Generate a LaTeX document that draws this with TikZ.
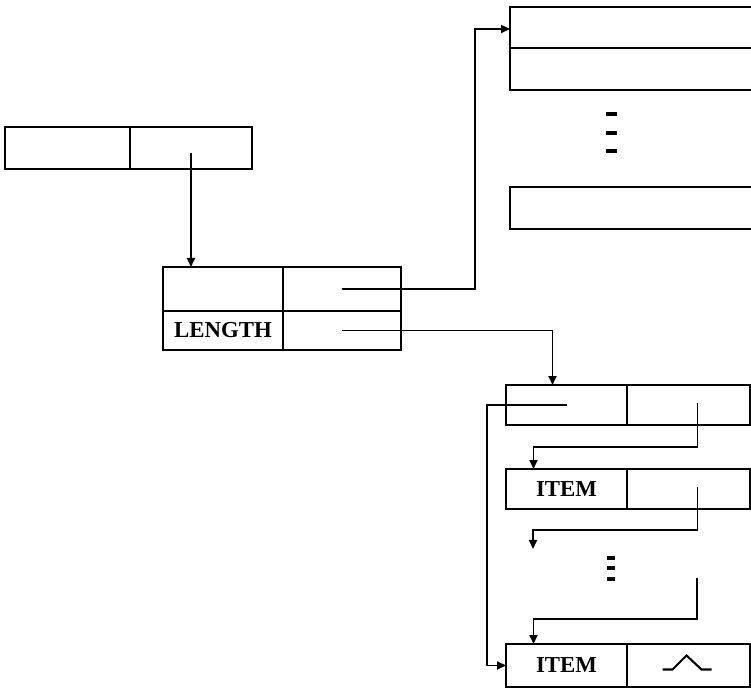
\documentclass[tikz,border=0pt]{standalone}
\usepackage{fontspec}
\setmainfont{Liberation Serif}
\usetikzlibrary{arrows.meta, positioning, calc}

\begin{document}
\begin{tikzpicture}[
    x=0.02cm, y=-0.02cm,
    cell/.style={rectangle, draw, line width=1.2pt, minimum width=#1, minimum height=0.84cm,
                 inner sep=0pt, outer sep=0pt, font=\fontsize{13}{15}\selectfont\bfseries},
    ptr/.style={line width=1.1pt, -{Triangle[length=1.8mm, width=1.6mm]}},
    gapdash/.style={line width=2pt}
]
\useasboundingbox (0,0) rectangle (751,688);
\clip (0,0) rectangle (751,688);

% header record
\node[cell=2.5cm] (hdr) at (67.5,148) {};
\node[cell=2.44cm] (hdrptr) at (191,148) {};

% descriptor
\node[cell=2.4cm, minimum height=0.88cm] (desc) at (223,289) {};
\node[cell=2.36cm, minimum height=0.88cm] (descptr) at (342,289) {};
\node[cell=2.4cm, minimum height=0.78cm] (len) at (223,330.5) {LENGTH};
\node[cell=2.36cm, minimum height=0.78cm] (lenptr) at (342,330.5) {};

% table of entries
\node[cell=5cm, minimum height=0.82cm] (tab1) at (635,27.5) {};
\node[cell=5cm] (tab2) at (635,69) {};
\node[cell=5cm] (tabn) at (635,208) {};
\foreach \y in {114,133,151}
    \draw[gapdash] (606,\y) -- (617,\y);

% list of items
\node[cell=2.42cm, minimum height=0.8cm] (head) at (566.5,405) {};
\node[cell=2.46cm, minimum height=0.8cm] (headnext) at (688.5,405) {};
\node[cell=2.42cm, minimum height=0.8cm] (item1) at (566.5,489) {ITEM};
\node[cell=2.46cm, minimum height=0.8cm] (item1next) at (688.5,489) {};
\node[cell=2.42cm, minimum height=0.86cm] (itemn) at (566.5,665.5) {ITEM};
\node[cell=2.46cm, minimum height=0.86cm] (itemnend) at (688.5,665.5) {};
\foreach \y in {558,568,579}
    \draw[gapdash] (607,\y) -- (615,\y);

% end marker
\draw[line width=1.2pt] ($(itemnend.center)+(-26,4)$) -- ++(10,0) -- ++(14,-14) -- ++(15,14) -- ++(10,0);

% pointers
\draw[ptr] ($(hdrptr.center)+(0,5)$) -- (hdrptr.center |- desc.north);
\draw[ptr] (descptr.center) -| ($(tab1.west)+(-35,1.5)$) -- ($(tab1.west)+(0,1.5)$);
\draw[ptr] (lenptr.center) -| ($(head.north)+(-14,0)$);
\draw[ptr] (head.center) -| ($(itemn.west)+(-19,0)$) -- (itemn.west);
\draw[ptr] ($(headnext.center)+(9,-2)$) -- ++(0,44) -| ($(item1.north)+(-33,0)$);
\coordinate (gapin) at (533,549);
\coordinate (gapout) at (697,578);
\draw[ptr] ($(item1next.center)+(9,-2)$) -- ++(0,43) -| (gapin);
\draw[ptr] (gapout) -- ++(0,41) -| ($(itemn.north)+(-33,0)$);

\end{tikzpicture}
\end{document}
